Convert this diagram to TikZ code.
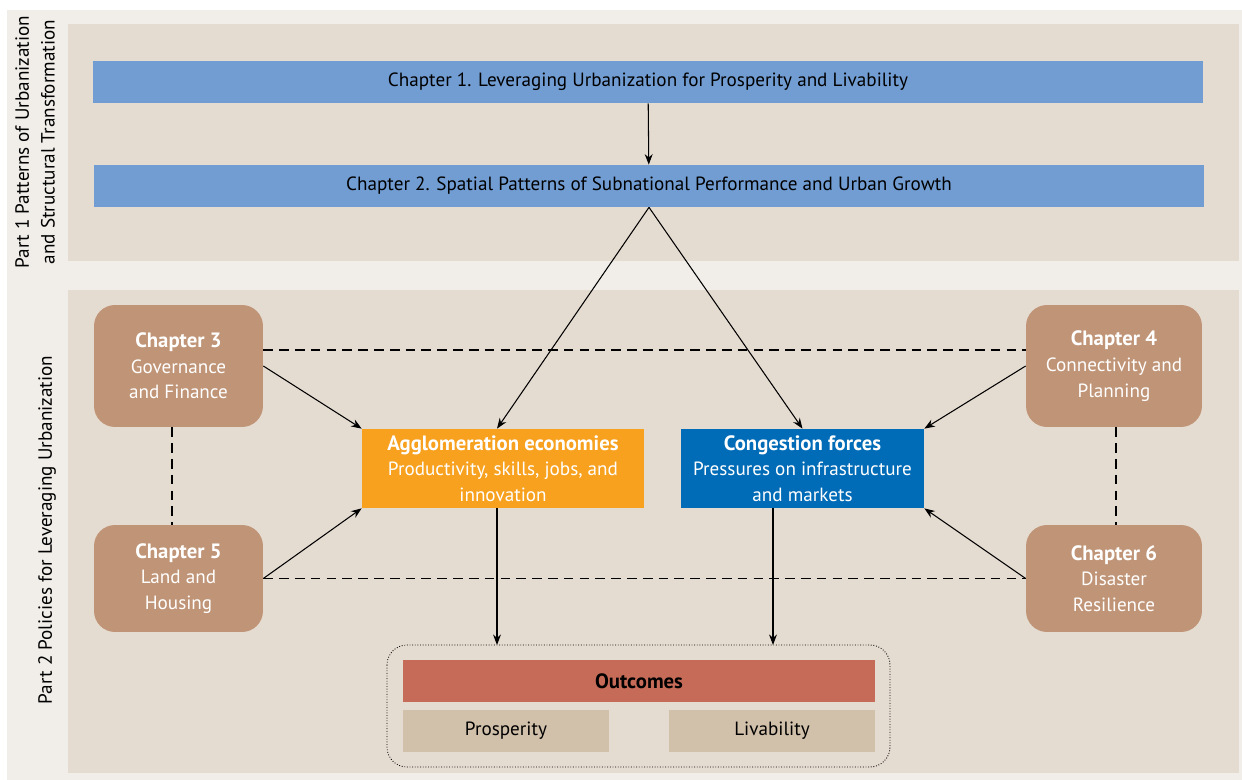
\documentclass[tikz,border=0pt]{standalone}
\usepackage{fontspec}
\setmainfont{PT Sans}
\usetikzlibrary{arrows.meta}

\definecolor{pagebg}{HTML}{F1EEE9}
\definecolor{panelbg}{HTML}{E5DCD1}
\definecolor{chblue}{HTML}{729DD2}
\definecolor{chbrown}{HTML}{C09476}
\definecolor{agglorange}{HTML}{F7A11E}
\definecolor{congblue}{HTML}{006BB6}
\definecolor{outred}{HTML}{C66B57}
\definecolor{outtan}{HTML}{D1C0AA}

\newcommand\chead[1]{{\fontsize{11.8}{14.6}\selectfont\bfseries #1}}

\tikzset{
  bar/.style={fill=chblue, minimum width=22.2cm, minimum height=0.84cm, inner sep=0pt},
  chapter/.style={fill=chbrown, rounded corners=0.42cm, text=white, align=center,
    inner sep=0pt, font=\fontsize{10.9}{14.6}\selectfont},
  force/.style={text=white, align=center, minimum height=1.58cm, inner sep=0pt,
    font=\fontsize{10.9}{14.6}\selectfont},
  outbox/.style={fill=outtan, minimum width=4.12cm, minimum height=0.84cm, inner sep=0pt},
  arr/.style={-{Stealth[length=6pt,width=4.5pt]}, line width=0.6pt},
  link/.style={line width=0.6pt, dash pattern=on 5.5pt off 3.5pt}
}

\begin{document}
\begin{tikzpicture}[x=0.02cm, y=-0.02cm, font=\fontsize{10.9}{13}\selectfont]
   \useasboundingbox (0,0) rectangle (1242,780);
   % backgrounds
   \fill[pagebg] (7,10) rectangle (1242,780);
   \fill[panelbg] (68,24) rectangle (1239,261);
   \fill[panelbg] (68,290) rectangle (1239,773);
   \node[rotate=90, align=center, font=\fontsize{10.9}{14.6}\selectfont] (part1) at (35,142)
     {Part 1 Patterns of Urbanization\\and Structural Transformation};
   \node[rotate=90, font=\fontsize{10.9}{14.6}\selectfont] (part2) at (47,530)
     {Part 2 Policies for Leveraging Urbanization};

   % part 1
   \node[bar] (ch1) at (648,82) {Chapter 1. Leveraging Urbanization for Prosperity and Livability};
   \node[bar] (ch2) at (649,186) {Chapter 2. Spatial Patterns of Subnational Performance and Urban Growth};

   % part 2
   \node[chapter, minimum width=3.38cm, minimum height=2.44cm] (ch3) at (178.5,366)
     {\chead{Chapter 3}\\Governance\\and Finance};
   \node[chapter, minimum width=3.52cm, minimum height=2.44cm] (ch4) at (1114,366)
     {\chead{Chapter 4}\\Connectivity and\\Planning};
   \node[chapter, minimum width=3.38cm, minimum height=2.14cm] (ch5) at (178.5,578.5)
     {\chead{Chapter 5}\\Land and\\Housing};
   \node[chapter, minimum width=3.52cm, minimum height=2.14cm] (ch6) at (1114,578.5)
     {\chead{Chapter 6}\\Disaster\\Resilience};
   \node[force, fill=agglorange, minimum width=5.64cm] (aggl) at (503,468.5)
     {\chead{Agglomeration economies}\\Productivity, skills, jobs, and\\innovation};
   \node[force, fill=congblue, minimum width=4.86cm] (cong) at (802.5,468.5)
     {\chead{Congestion forces}\\Pressures on infrastructure\\and markets};

   % outcomes
   \draw[densely dotted, rounded corners=0.4cm, line width=0.5pt] (387,645) rectangle (890,767);
   \coordinate (outtop) at (639,645);
   \node[fill=outred, minimum width=9.44cm, minimum height=0.84cm, inner sep=0pt] (outc) at (639,681)
     {\chead{Outcomes}};
   \node[outbox] (prosp) at (506,731) {Prosperity};
   \node[outbox] (liv) at (772,731) {Livability};

   % connectors
   \draw[arr] (ch1) -- (ch2);
   \draw[arr] (ch2.south) -- ([xshift=-0.12cm]aggl.north);
   \draw[arr] (ch2.south) -- (cong.north);
   \draw[arr] (ch3.east) -- (aggl.north west);
   \draw[arr] (ch5.east) -- (aggl.south west);
   \draw[arr] (ch4.west) -- (cong.north east);
   \draw[arr] (ch6.west) -- (cong.south east);
   \coordinate (adown) at ([xshift=-0.12cm]aggl.south);
   \coordinate (cdown) at ([xshift=-0.59cm]cong.south);
   \draw[arr] (adown) -- (adown |- outtop);
   \draw[arr] (cdown) -- (cdown |- outtop);
   \draw[link] ([yshift=0.32cm]ch3.east) -- ([yshift=0.32cm]ch4.west);
   \draw[link] (ch5.east) -- (ch6.west);
   \draw[link] ([xshift=-0.13cm]ch3.south) -- ([xshift=-0.13cm]ch5.north);
   \draw[link] ([xshift=0.04cm]ch4.south) -- ([xshift=0.04cm]ch6.north);
\end{tikzpicture}
\end{document}
